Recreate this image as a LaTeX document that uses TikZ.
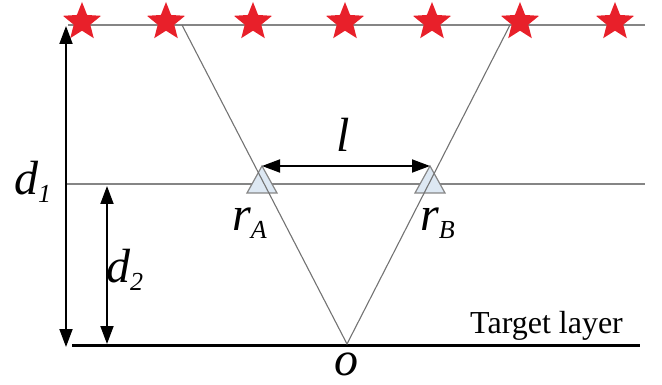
\documentclass[tikz,border=0pt]{standalone}
\usepackage{fontspec}
\setmainfont{Liberation Serif}[ItalicFont={Liberation Serif Italic}]
\usetikzlibrary{shapes.geometric,arrows.meta}
\definecolor{starred}{HTML}{E8202A}
\definecolor{linegray}{HTML}{858585}
\definecolor{trifill}{HTML}{DDE8F3}
\tikzset{
  starnode/.style={star,star points=5,star point ratio=2.3,minimum width=40pt,minimum height=40pt,inner sep=0pt,fill=starred,draw=none},
  layerline/.style={draw=linegray,line width=1.8pt},
  rayline/.style={draw=black!55,line width=1.1pt},
  dimboth/.style={draw=black,line width=1.8pt,{Triangle[length=18pt,width=13pt]}-{Triangle[length=18pt,width=13pt]}},
  receiver/.style={fill=trifill,draw=linegray,line width=1.2pt},
  biglabel/.style={inner sep=0pt,font=\fontsize{48}{48}\selectfont\rmfamily\itshape},
  txtlabel/.style={inner sep=0pt,font=\fontsize{32}{32}\selectfont\rmfamily}
}
\newcommand{\sublbl}[2]{#1\raisebox{-8pt}{\fontsize{26}{26}\selectfont #2}}
\begin{document}
\begin{tikzpicture}[x=1pt,y=-1pt]
\useasboundingbox (0,0) rectangle (662,385);
% lines
\coordinate (topL) at (68,25);
\coordinate (topR) at (645,25);
\coordinate (midL) at (66,184);
\coordinate (midR) at (645,184);
\coordinate (botL) at (72,345);
\coordinate (botR) at (640,345);
\coordinate (srcA) at (182,25);
\coordinate (srcB) at (510,25);
\coordinate (O) at (347,344);
\draw[layerline] (topL) -- (topR);
\draw[layerline] (midL) -- (midR);
\draw[draw=black,line width=3pt] (botL) -- (botR);
% stars
\foreach \i/\x in {1/82,2/166,3/253,4/345,5/432,6/520,7/615}
  \node[starnode] (s\i) at (\x,22) {};
% receivers
\coordinate (apA) at (262,166);
\coordinate (apB) at (430,166);
\draw[receiver] (247,193) -- (apA) -- (277,193) -- cycle;
\draw[receiver] (415,193) -- (apB) -- (445,193) -- cycle;
% rays
\draw[rayline] (srcA) -- (O) -- (srcB);
% dimension arrows
\coordinate (d1t) at (66,26);
\coordinate (d1b) at (66,347);
\draw[dimboth] (d1t) -- (d1b);
\coordinate (d2t) at (107,186);
\coordinate (d2b) at (107,344);
\draw[dimboth] (d2t) -- (d2b);
\draw[dimboth] (apA) -- (apB);
% labels
\node[biglabel,anchor=base west] (ld1) at (14,195) {\sublbl{d}{1}};
\node[biglabel,anchor=base west] (ld2) at (106,283) {\sublbl{d}{2}};
\node[biglabel,anchor=base] (ll) at (343,152) {l};
\node[biglabel,anchor=base west] (lrA) at (232,230) {\sublbl{r}{A}};
\node[biglabel,anchor=base west] (lrB) at (420,230) {\sublbl{r}{B}};
\node[biglabel,anchor=base] (lo) at (346,375) {o};
\node[txtlabel,anchor=base west] (tl) at (470,333) {Target layer};
\end{tikzpicture}
\end{document}
